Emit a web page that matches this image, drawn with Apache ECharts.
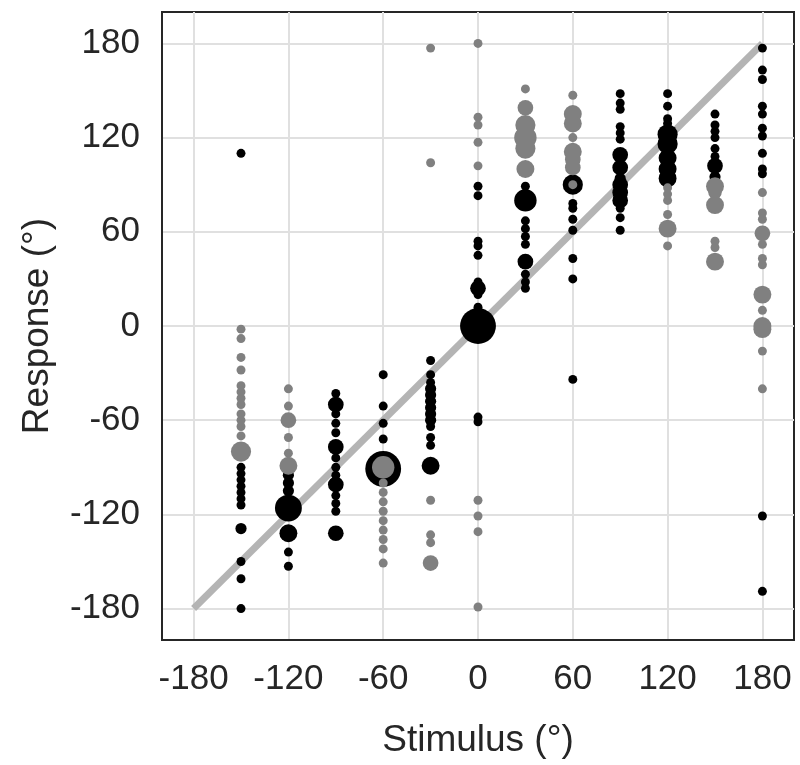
<!DOCTYPE html>
<html>
<head>
<meta charset="utf-8">
<script src="https://cdn.jsdelivr.net/npm/echarts@6/dist/echarts.min.js"></script>
<style>html,body{margin:0;padding:0;background:#fff}#chart{width:800px;height:765px}</style>
</head>
<body>
<div id="chart"></div>
<script>
// [stimulus, response, marker size]
var blackPoints = [
  [-150,110,8],[-150,-90,8],[-150,-94,8],[-150,-98,8],[-150,-102,8],[-150,-106,8],[-150,-110,8],[-150,-114,8],[-150,-129,10],[-150,-150,8],[-150,-161,8],[-150,-180,8],
  [-120,-95,10],[-120,-100,10],[-120,-105,10],[-120,-116,24],[-120,-132,16],[-120,-144,8],[-120,-153,8],
  [-90,-43,8],[-90,-50,14],[-90,-56,8],[-90,-62,8],[-90,-68,8],[-90,-77,14],[-90,-84,8],[-90,-90,8],[-90,-95,8],[-90,-101,14],[-90,-108,8],[-90,-113,8],[-90,-118,8],[-90,-132,14],
  [-60,-31,8],[-60,-51,8],[-60,-62,8],[-60,-72,8],[-60,-91,32],
  [-30,-22,8],[-30,-31,8],[-30,-36,8],[-30,-40,10],[-30,-44,10],[-30,-48,10],[-30,-52,10],[-30,-56,10],[-30,-60,10],[-30,-64,8],[-30,-71,8],[-30,-76,8],[-30,-89,16],
  [0,89,8],[0,83,8],[0,54,8],[0,51,8],[0,45,8],[0,28,8],[0,24,14],[0,20,8],[0,12,8],[0,0,32],[0,-58,8],[0,-61,8],
  [30,89,8],[30,80,20],[30,67,8],[30,62,8],[30,57,8],[30,52,8],[30,41,14],[30,33,8],[30,28,8],[30,24,8],
  [60,90,18],[60,78,8],[60,75,8],[60,68,8],[60,61,8],[60,43,8],[60,30,8],[60,-34,8],
  [90,148,8],[90,142,8],[90,138,8],[90,127,8],[90,123,8],[90,119,8],[90,109,14],[90,101,14],[90,94,10],[90,90,14],[90,85,14],[90,80,14],[90,75,8],[90,69,8],[90,61,8],
  [120,148,8],[120,140,8],[120,132,8],[120,129,8],[120,122,18],[120,116,18],[120,107,16],[120,100,16],[120,94,16],
  [150,135,8],[150,128,8],[150,124,8],[150,120,8],[150,113,8],[150,108,8],[150,102,14],[150,95,10],
  [180,177,8],[180,163,8],[180,157,8],[180,140,8],[180,135,8],[180,126,8],[180,121,8],[180,110,8],[180,100,8],[180,97,8],[180,-121,8],[180,-169,8]
];
var grayPoints = [
  [-150,-2,8],[-150,-8,8],[-150,-20,8],[-150,-28,8],[-150,-38,8],[-150,-42,8],[-150,-46,8],[-150,-50,8],[-150,-56,8],[-150,-60,8],[-150,-64,8],[-150,-70,8],[-150,-80,18],
  [-120,-40,8],[-120,-51,8],[-120,-60,14],[-120,-71,8],[-120,-81,8],[-120,-89,16],
  [-60,-90,20],[-60,-100,8],[-60,-106,8],[-60,-112,8],[-60,-118,8],[-60,-124,8],[-60,-130,8],[-60,-136,8],[-60,-142,8],[-60,-151,8],
  [-30,177,8],[-30,104,8],[-30,-111,8],[-30,-133,8],[-30,-138,8],[-30,-151,14],
  [0,180,8],[0,133,8],[0,128,8],[0,117,8],[0,102,8],[0,-111,8],[0,-121,8],[0,-131,8],[0,-179,8],
  [30,151,8],[30,139,14],[30,128,18],[30,120,20],[30,113,18],[30,100,16],
  [60,147,8],[60,135,16],[60,129,16],[60,120,8],[60,111,16],[60,106,14],[60,101,14],[60,90,8],
  [120,88,8],[120,84,8],[120,80,8],[120,71,8],[120,62,16],[120,51,8],
  [150,89,16],[150,85,12],[150,77,16],[150,54,8],[150,50,8],[150,41,16],
  [180,85,8],[180,72,8],[180,68,8],[180,59,14],[180,52,8],[180,43,8],[180,39,8],[180,20,16],[180,10,8],[180,0,16],[180,-2,16],[180,-16,8],[180,-40,8]
];
var axisTicks = [-180,-120,-60,0,60,120,180];
var diagonal = [[-180,-180],[180,180]];

var font = 'Liberation Sans, Arial, sans-serif';
function axis(name, gap, margin) {
  return {
    type: 'value', min: -200, max: 200, interval: 20,
    name: name, nameLocation: 'middle', nameGap: gap,
    nameTextStyle: {fontSize: 37, color: '#262626', fontFamily: font},
    axisLine: {show: true, onZero: false, lineStyle: {color: '#262626', width: 2}},
    axisTick: {show: false},
    axisLabel: {fontSize: 35, color: '#262626', fontFamily: font, margin: margin,
      formatter: function (v) { return axisTicks.indexOf(v) >= 0 ? String(v) : ''; }},
    // lines every 20 from -200; only every third (-180, -120, ...) is drawn
    splitLine: {show: true, lineStyle: {color: ['rgba(0,0,0,0)', '#e0e0e0', 'rgba(0,0,0,0)'], width: 2}}
  };
}
function sz(d) { return d[2] * 1.12; }
var chart = echarts.init(document.getElementById('chart'));
chart.setOption({
  animation: false,
  grid: {left: 162, right: 6, top: 12, bottom: 125, show: true, borderColor: '#262626', borderWidth: 2},
  xAxis: axis('Stimulus (°)', 82, 22),
  yAxis: axis('Response (°)', 106, 22),
  series: [
    {type: 'line', data: diagonal, symbol: 'none', lineStyle: {color: '#b4b4b4', width: 7}, z: 1},
    {type: 'scatter', data: blackPoints, symbolSize: sz, itemStyle: {color: '#000', opacity: 1}, z: 2},
    {type: 'scatter', data: grayPoints, symbolSize: sz, itemStyle: {color: '#808080', opacity: 1}, z: 3}
  ]
});
</script>
</body>
</html>
